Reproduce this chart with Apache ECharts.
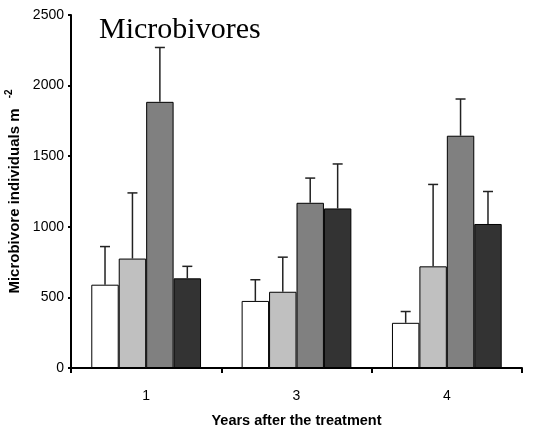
<!DOCTYPE html>
<html>
<head>
<meta charset="utf-8">
<script src="https://cdn.jsdelivr.net/npm/echarts@6/dist/echarts.min.js"></script>
<style>html,body{margin:0;padding:0;background:#fff}#c{width:553px;height:438px}</style>
</head>
<body>
<div id="c"></div>
<script>
var categories = ['1', '3', '4'];
var seriesNames = ['T1', 'T2', 'T3', 'T4'];
var means = [
  [590, 475, 320],
  [775, 540, 720],
  [1885, 1170, 1645],
  [635, 1130, 1020]
];
var upper = [
  [860, 625, 400],
  [1240, 785, 1300],
  [2270, 1345, 1905],
  [720, 1445, 1250]
];
var colors = ['#ffffff', '#c0c0c0', '#808080', '#333333'];
var yTicks = [0, 500, 1000, 1500, 2000, 2500];

var catGap = 0.27;
var nSeries = means.length;

var series = [];
means.forEach(function (vals, i) {
  series.push({
    name: seriesNames[i],
    type: 'bar',
    data: vals,
    barGap: '0%',
    barCategoryGap: (catGap * 100) + '%',
    itemStyle: { color: colors[i], borderColor: '#000', borderWidth: 1 },
    z: 2
  });
});
upper.forEach(function (ups, i) {
  series.push({
    type: 'custom',
    data: ups.map(function (u, j) { return [j, means[i][j], u]; }),
    z: 3,
    renderItem: function (params, api) {
      var band = api.size([1, 0])[0];
      var bw = band * (1 - catGap) / nSeries;
      var base = api.coord([api.value(0), api.value(1)]);
      var top = api.coord([api.value(0), api.value(2)]);
      var x = base[0] + (i - (nSeries - 1) / 2) * bw;
      var cap = 5;
      var st = { stroke: '#222', lineWidth: 1.5 };
      return {
        type: 'group',
        children: [
          { type: 'line', shape: { x1: x, y1: base[1], x2: x, y2: top[1] }, style: st },
          { type: 'line', shape: { x1: x - cap, y1: top[1], x2: x + cap, y2: top[1] }, style: st }
        ]
      };
    }
  });
});

var chart = echarts.init(document.getElementById('c'), null, { renderer: 'canvas' });
chart.setOption({
  animation: false,
  backgroundColor: '#fff',
  title: {
    text: 'Microbivores',
    left: 94, top: 10,
    textStyle: { fontFamily: 'Liberation Serif', fontSize: 30, fontWeight: 'normal', color: '#000' }
  },
  grid: { left: 71, right: 31, top: 15, bottom: 70, containLabel: false, outerBoundsMode: 'none' },
  xAxis: {
    type: 'category',
    data: categories,
    name: 'Years after the treatment',
    nameLocation: 'middle',
    nameGap: 45,
    nameTextStyle: { fontFamily: 'Liberation Sans', fontWeight: 'bold', fontSize: 14.5, color: '#000' },
    axisLine: { lineStyle: { color: '#000', width: 2 } },
    axisTick: { show: true, length: 5, lineStyle: { color: '#000', width: 2 } },
    axisLabel: { fontFamily: 'Liberation Sans', fontSize: 14, color: '#000', margin: 21 }
  },
  yAxis: {
    type: 'value',
    min: yTicks[0], max: yTicks[yTicks.length - 1], interval: 500,
    name: 'Microbivore individuals m {sup|-2}',
    nameLocation: 'middle',
    nameGap: 41,
    nameRotate: 90,
    nameTextStyle: {
      fontFamily: 'Liberation Sans', fontWeight: 'bold', fontSize: 15, color: '#000',
      rich: { sup: { fontFamily: 'Liberation Sans', fontWeight: 'bold', fontSize: 10, color: '#000', verticalAlign: 'top', padding: [0, 0, 10, 6] } }
    },
    axisLine: { show: true, lineStyle: { color: '#000', width: 2 } },
    axisTick: { show: true, length: 3, lineStyle: { color: '#000', width: 2 } },
    splitLine: { show: false },
    axisLabel: {
      fontFamily: 'Liberation Sans', fontSize: 14, color: '#000', margin: 7,
      formatter: function (v) { return String(v); }
    }
  },
  series: series
});
</script>
</body>
</html>
